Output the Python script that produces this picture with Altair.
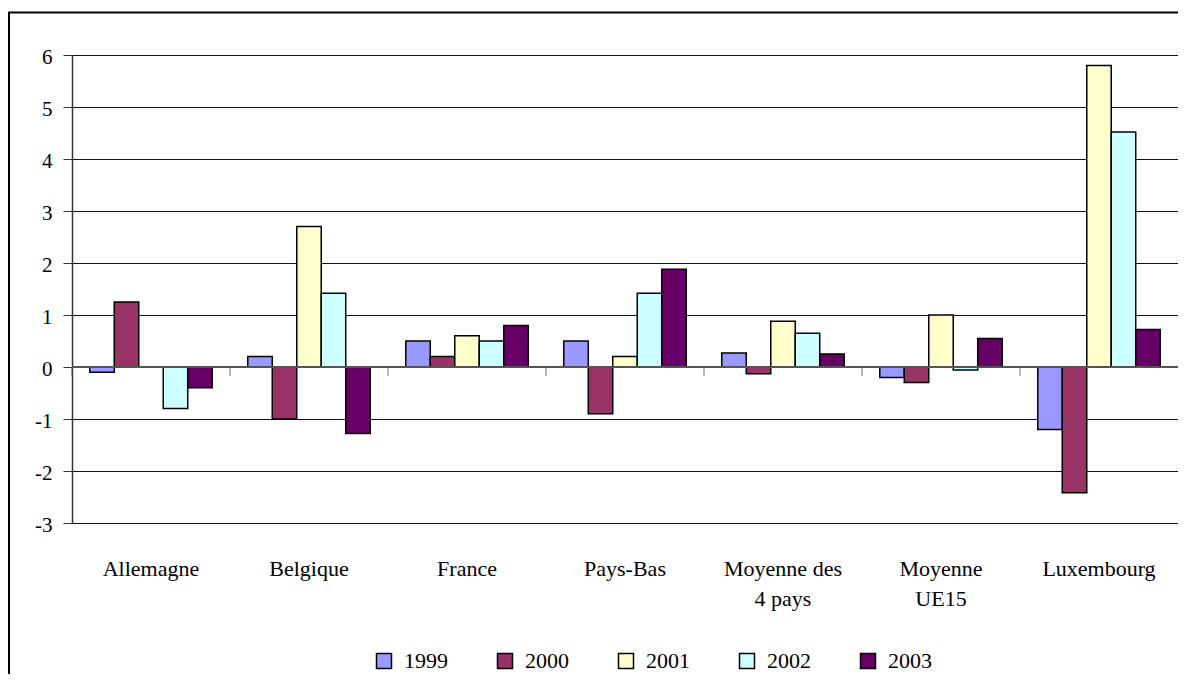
import altair as alt
import pandas as pd

categories = ["Allemagne", "Belgique", "France", "Pays-Bas",
              "Moyenne des 4 pays", "Moyenne UE15", "Luxembourg"]
years = ["1999", "2000", "2001", "2002", "2003"]
colors = ["#9999FF", "#993366", "#FFFFCC", "#CCFFFF", "#660066"]

v1999 = [-0.1, 0.2, 0.5, 0.5, 0.27, -0.2, -1.2]
v2000 = [1.25, -1.0, 0.2, -0.9, -0.13, -0.3, -2.42]
v2001 = [None, 2.7, 0.6, 0.2, 0.88, 1.0, 5.8]
v2002 = [-0.8, 1.42, 0.5, 1.42, 0.65, -0.06, 4.52]
v2003 = [-0.4, -1.28, 0.8, 1.88, 0.25, 0.55, 0.72]

series = dict(zip(years, [v1999, v2000, v2001, v2002, v2003]))
rows = []
for y in years:
    for c, v in zip(categories, series[y]):
        rows.append({"pays": c, "annee": y, "valeur": v})
df = pd.DataFrame(rows)
cat_df = pd.DataFrame({"pays": categories})

FONT = "Liberation Serif"
W, H = 1106, 468
PAD_IN = 0.225
STEP = W / len(categories)

label_expr = ("datum.value == 'Moyenne des 4 pays' ? ['Moyenne des', '4 pays'] : "
              "datum.value == 'Moyenne UE15' ? ['Moyenne', 'UE15'] : datum.value")

xscale = alt.Scale(domain=categories, paddingInner=PAD_IN, paddingOuter=PAD_IN / 2)
yscale = alt.Scale(domain=[-3, 6], nice=False, zero=False)

bars = alt.Chart(df).mark_bar(stroke="black", strokeWidth=1.5).encode(
    x=alt.X("pays:N", scale=xscale, sort=categories,
            axis=alt.Axis(title=None, labelAngle=0, domain=False, ticks=False,
                          labelFont=FONT, labelFontSize=22, labelColor="black",
                          labelPadding=35, labelLineHeight=30, labelExpr=label_expr)),
    xOffset=alt.XOffset("annee:N", sort=years, scale=alt.Scale(paddingInner=0, paddingOuter=0)),
    y=alt.Y("valeur:Q", scale=yscale,
            axis=alt.Axis(title=None, values=list(range(-3, 7)), grid=True,
                          gridColor="#111", gridWidth=1, domainColor="#333",
                          domainWidth=1.5, tickColor="#333", tickSize=9,
                          labelFont=FONT, labelFontSize=21, labelColor="black",
                          labelPadding=11, labelOffset=2,
                          labelExpr="'' + datum.value")),
    color=alt.Color("annee:N", sort=years,
                    scale=alt.Scale(domain=years, range=colors),
                    legend=alt.Legend(title=None, orient="none", legendX=301, legendY=595,
                                      direction="horizontal", columns=5,
                                      symbolType="square", symbolSize=225,
                                      symbolStrokeColor="black", symbolStrokeWidth=1.5,
                                      labelFont=FONT, labelFontSize=22, labelColor="black",
                                      labelOffset=9, columnPadding=46, padding=0)),
)

zero_line = alt.Chart(cat_df).mark_rule(color="#555", strokeWidth=1.5).encode(
    y=alt.datum(0, scale=yscale),
    x=alt.value(0), x2=alt.value(W),
)

boundary_ticks = alt.Chart(cat_df).mark_tick(
    orient="vertical", size=9, thickness=1.2, color="#555"
).encode(
    x=alt.X("pays:N", scale=xscale, sort=categories, bandPosition=0),
    xOffset=alt.value(-PAD_IN * STEP / 2),
    y=alt.datum(0, scale=yscale),
    yOffset=alt.value(4.5),
)

frame = alt.Chart(pd.DataFrame({"a": [0]})).mark_rect(
    fill="transparent", stroke="black", strokeWidth=2
).encode(
    x=alt.value(-63), x2=alt.value(1200),
    y=alt.value(-42.5), y2=alt.value(800),
)

chart = alt.layer(frame, bars, zero_line, boundary_ticks).properties(
    width=W, height=H,
    autosize=alt.AutoSizeParams(type="none"),
    padding={"left": 64, "top": 47, "right": 0, "bottom": 151},
).configure_view(stroke=None).configure(background="white")

chart.save("out.html", embed_options={"renderer": "svg", "actions": False})
